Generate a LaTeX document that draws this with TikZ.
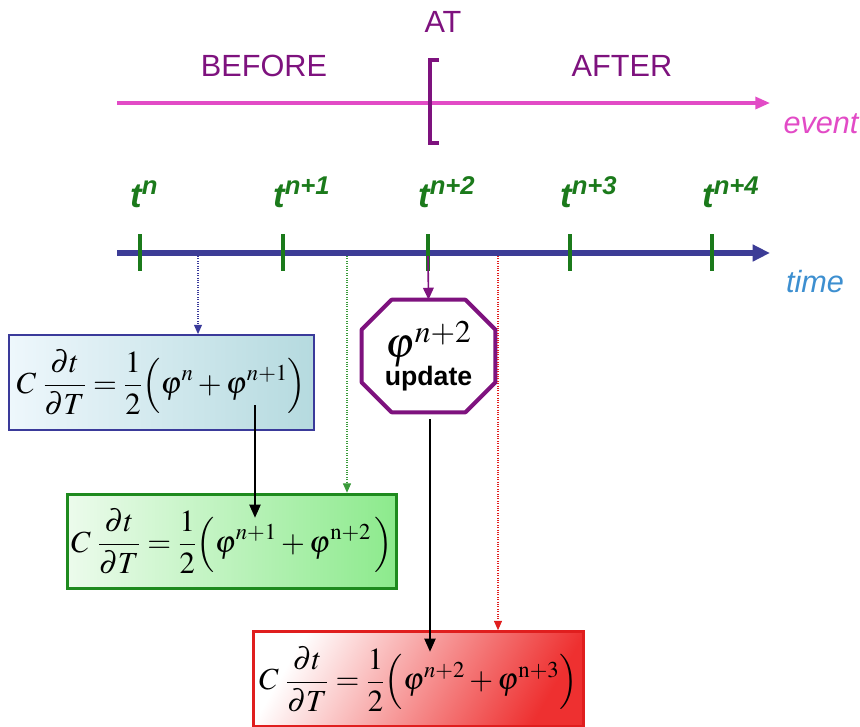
\documentclass[tikz,border=0pt]{standalone}
\usepackage{amsmath}
\usepackage{mathptmx}
\usepackage{fontspec}
\setmainfont{Liberation Serif}
\setsansfont{Liberation Sans}
\usetikzlibrary{arrows.meta, positioning, calc}

\definecolor{evpink}{HTML}{E24BC6}
\definecolor{atpurple}{HTML}{7E127E}
\definecolor{axblue}{HTML}{3C3C96}
\definecolor{tkgreen}{HTML}{1B7A1B}
\definecolor{tmblue}{HTML}{3D8FD0}
\definecolor{bxblue}{HTML}{3A3A9A}
\definecolor{bxgreen}{HTML}{1E8A1E}
\definecolor{bxred}{HTML}{E01E1E}
\definecolor{dotgreen}{HTML}{3A9A3A}

\tikzset{
  lbl/.style={font=\sffamily\fontsize{23}{26}\selectfont, text=atpurple},
  tlbl/.style={font=\sffamily\fontsize{26}{28}\selectfont\bfseries\itshape, text=tkgreen, anchor=base west},
  tickline/.style={tkgreen, line width=3pt},
  eqbox/.style={draw, line width=1.6pt, minimum width=229pt, minimum height=71pt, inner xsep=1pt, font=\fontsize{23}{28}\selectfont},
  dotarr/.style={densely dotted, line width=0.8pt, -{Triangle[length=7pt,width=6pt]}},
  blkarr/.style={line width=2.2pt, -{Triangle[length=10pt,width=8pt]}},
}

\begin{document}
\begin{tikzpicture}[x=0.75pt, y=-0.75pt, every node/.style={inner sep=0pt}]
  \useasboundingbox (0,0) rectangle (860,726);
  % event line
  \coordinate (evL) at (117,103);
  \coordinate (evR) at (770,103);
  \draw[evpink, line width=2.4pt, -{Triangle[length=11pt,width=9pt]}] (evL) -- (evR);
  \draw[atpurple, line width=3.2pt] (439,60) -- (430,60) -- (430,143) -- (439,143);
  \node[lbl] (at) at (443,22) {AT};
  \node[lbl] (before) at (264,66) {BEFORE};
  \node[lbl] (after) at (622,66) {AFTER};
  \node[font=\sffamily\fontsize{23}{26}\selectfont\itshape, text=evpink] (event) at (821,124) {event};
  % time axis
  \coordinate (tmL) at (117,253);
  \coordinate (tmR) at (770,253);
  \draw[axblue, line width=3.8pt, -{Triangle[length=13pt,width=12pt]}] (tmL) -- (tmR);
  \foreach \x/\s [count=\i] in {140/n, 283/n+1, 428/n+2, 570/n+3, 712/n+4} {
    \draw[tickline] (\x,234) -- (\x,271);
    \coordinate (tk\i) at (\x,256);
    \node[tlbl] (t\i) at (\x-10,207) {t\textsuperscript{\s}};
  }
  \node[font=\sffamily\fontsize{23}{26}\selectfont\itshape, text=tmblue] (time) at (815,282) {time};
  % boxes
  \node[minimum width=100pt, minimum height=84pt, align=center]
    (upd) at (428.5,356) {\fontsize{32}{32}\selectfont$\varphi^{n+2}$\\[-2pt]\sffamily\fontsize{20}{22}\selectfont\bfseries update};
  \draw[atpurple, line width=3pt, line join=round]
    ($(upd.north west)+(30,0)$) -- ($(upd.north east)+(-30,0)$) -- ($(upd.north east)+(0,30)$)
    -- ($(upd.south east)+(0,-30)$) -- ($(upd.south east)+(-30,0)$) -- ($(upd.south west)+(30,0)$)
    -- ($(upd.south west)+(0,-30)$) -- ($(upd.north west)+(0,30)$) -- cycle;
  \node[eqbox, draw=bxblue, left color={rgb,255:red,238;green,247;blue,252}, right color={rgb,255:red,181;green,218;blue,223}]
    (eqA) at (161.5,382.5) {$\displaystyle C\;\frac{\partial t}{\partial T}=\frac{1}{2}\Bigl(\varphi^{n}+\varphi^{n+1}\Bigr)$};
  \node[eqbox, draw=bxgreen, line width=2.2pt, minimum width=247pt, left color={rgb,255:red,236;green,251;blue,236}, right color={rgb,255:red,140;green,234;blue,140}]
    (eqB) at (232,541.5) {$\displaystyle C\;\frac{\partial t}{\partial T}=\frac{1}{2}\Bigl(\varphi^{n+1}+\varphi^{\mathrm{n+2}}\,\Bigr)$};
  \node[eqbox, draw=bxred, line width=2.2pt, minimum width=247pt, left color=white, right color={rgb,255:red,238;green,48;blue,48}, shading angle=60]
    (eqC) at (418.5,679) {$\displaystyle C\;\frac{\partial t}{\partial T}=\frac{1}{2}\Bigl(\varphi^{n+2}+\varphi^{\mathrm{n+3}}\Bigr)$};
  % connectors
  \coordinate (dA) at (198,256);
  \coordinate (dB) at (347,256);
  \coordinate (dC) at (498,256);
  \draw[dotarr, bxblue] (dA) -- (dA |- eqA.north);
  \draw[dotarr, dotgreen] (dB) -- (dB |- eqB.north);
  \draw[dotarr, bxred] (dC) -- (dC |- eqC.north);
  \draw[atpurple, line width=1.2pt, -{Triangle[length=9pt,width=8pt]}] (tk3) -- (upd.north);
  \coordinate (phA) at (255,405);
  \coordinate (phB) at (255,518);
  \coordinate (phC) at (430,652);
  \draw[blkarr] (phA) -- (phB);
  \draw[blkarr, shorten <=5pt] (upd.south -| phC) -- (phC);
\end{tikzpicture}
\end{document}
